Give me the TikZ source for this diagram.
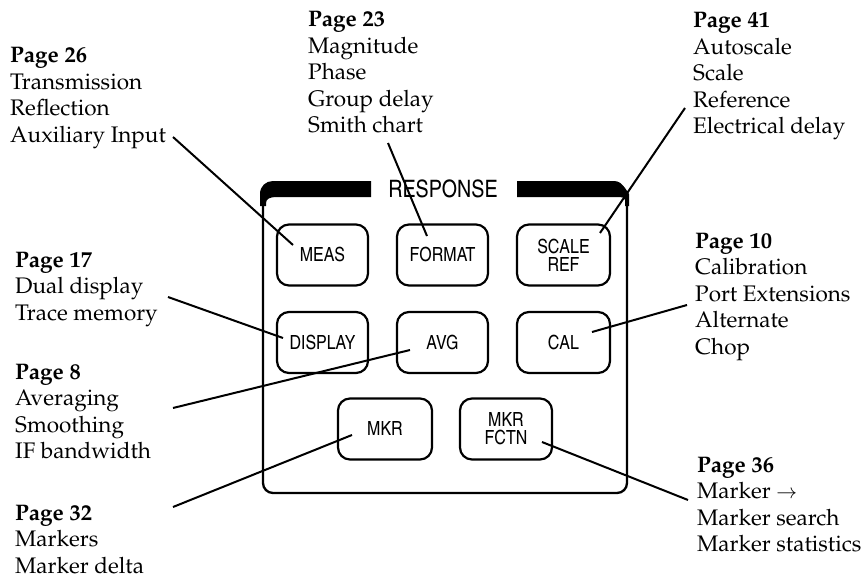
\documentclass[tikz,border=0pt]{standalone}
\usepackage[T1]{fontenc}
\renewcommand{\rmdefault}{ppl}
\usetikzlibrary{calc}
\newcommand{\labfont}{\fontsize{22.5}{26.5}\selectfont}
\newcommand{\btnfont}{\fontfamily{phv}\fontseries{mc}\fontsize{19.5}{18}\selectfont}
\newcommand{\respfont}{\fontfamily{phv}\fontseries{mc}\fontsize{24}{24}\selectfont}
\newcommand{\blk}[1]{\begin{tabular}[t]{@{}l@{}}#1\end{tabular}}
\tikzset{
  btn/.style={draw, line width=2.2pt, rounded corners=12pt, minimum width=91pt,
    minimum height=61pt, inner sep=0pt, font=\btnfont, align=center},
  lab/.style={anchor=base west, inner sep=0pt, font=\labfont},
  conn/.style={line width=2pt},
  panel/.style={line width=2.3pt}
}
\begin{document}
\begin{tikzpicture}[x=1pt,y=-1pt]
\useasboundingbox[fill=white] (0,0) rectangle (863,578);
% panel
\draw[panel, rounded corners=10pt] (263,200) -- (263,493) -- (627,493) -- (627,200);
\fill (371,181) -- (273,181) .. controls (266,181) and (260,186) .. (260,194) -- (260,206) -- (266,206) -- (266,203) .. controls (266,199) and (270,197) .. (276,197) -- (371,197) -- cycle;
\fill (517,181) -- (614,181) .. controls (619,181) and (622,184) .. (625,188) -- (629,194) -- (629,206) -- (625,206) -- (625,200) .. controls (625,198) and (623,197) .. (620,197) -- (517,197) -- cycle;
\node[font=\respfont, inner sep=0pt] (resp) at (443,189) {RESPONSE};
% buttons
\node[btn] (meas) at (322.5,255) {MEAS};
\node[btn] (format) at (442.5,255) {FORMAT};
\node[btn, minimum width=93pt] (scale) at (563.5,255) {SCALE\\[0pt]REF};
\node[btn] (display) at (322.5,342.5) {DISPLAY};
\node[btn] (avg) at (442.5,342.5) {AVG};
\node[btn, minimum width=93pt] (cal) at (563.5,342.5) {CAL};
\node[btn, minimum width=94pt] (mkr) at (385,429) {MKR};
\node[btn, minimum width=92pt] (mkrfctn) at (506,429) {MKR\\[0pt]FCTN};
% labels
\node[lab] (p26) at (10,63) {\blk{\textbf{Page 26}\\Transmission\\Reflection\\Auxiliary Input}};
\node[lab] (p23) at (308,27) {\blk{\textbf{Page 23}\\Magnitude\\Phase\\Group delay\\Smith chart}};
\node[lab] (p41) at (693,28) {\blk{\textbf{Page 41}\\Autoscale\\Scale\\Reference\\Electrical delay}};
\node[lab] (p17) at (15,267) {\blk{\textbf{Page 17}\\Dual display\\Trace memory}};
\node[lab] (p8) at (15,379) {\blk{\textbf{Page 8}\\Averaging\\Smoothing\\IF bandwidth}};
\node[lab] (p10) at (695,248) {\blk{\textbf{Page 10}\\Calibration\\Port Extensions\\Alternate\\Chop}};
\node[lab] (p32) at (15,520) {\blk{\textbf{Page 32}\\Markers\\Marker delta}};
\node[lab] (p36) at (697,472) {\blk{\textbf{Page 36}\\Marker $\rightarrow$\\Marker search\\Marker statistics}};
% connector free ends
\coordinate (c26) at (173,137);
\coordinate (c23) at (388,143);
\coordinate (c41) at (685,108);
\coordinate (c17) at (168,297);
\coordinate (c8) at (173,408);
\coordinate (c10) at (687,305);
\coordinate (c32) at (173,507);
\coordinate (c36) at (688,500);
% connectors
\draw[conn] (c26) -- ([shift={(-29.5,-10)}]meas.center);
\draw[conn] (c23) -- ([shift={(-15.5,-19)}]format.center);
\draw[conn] (c41) -- ([shift={(36.5,-22)}]scale.center);
\draw[conn] (c17) -- ([shift={(-39.5,-4.5)}]display.center);
\draw[conn] (c8) -- ([shift={(-32.5,7.5)}]avg.center);
\draw[conn] (c10) -- ([shift={(28.5,-10.5)}]cal.center);
\draw[conn] (c32) -- ([shift={(-33,6)}]mkr.center);
\draw[conn] (c36) -- ([shift={(36,13)}]mkrfctn.center);
\end{tikzpicture}
\end{document}
